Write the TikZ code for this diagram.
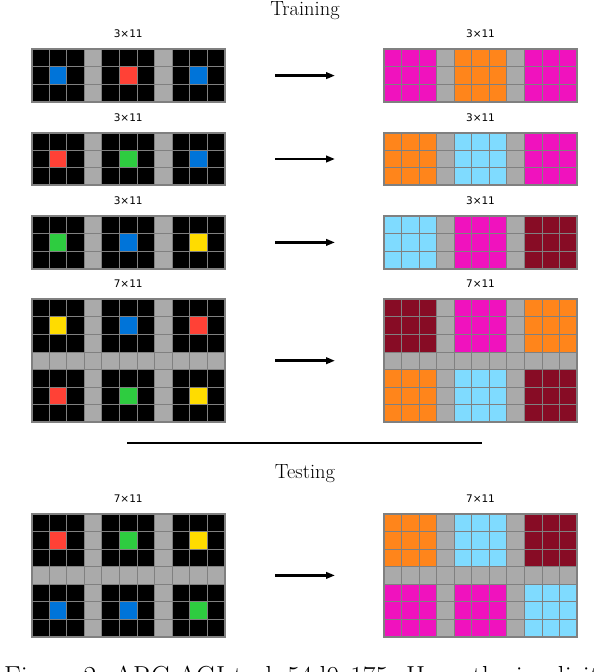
\documentclass[tikz,border=0pt]{standalone}
\usepackage{fontspec}
\newfontfamily\lblfont{DejaVu Sans}
\usetikzlibrary{arrows.meta}
\definecolor{arcblue}{HTML}{0074D9}
\definecolor{arcred}{HTML}{FF4136}
\definecolor{arcgreen}{HTML}{2ECC40}
\definecolor{arcyellow}{HTML}{FFDC00}
\definecolor{arcgray}{HTML}{AAAAAA}
\definecolor{arcmagenta}{HTML}{F012BE}
\definecolor{arcorange}{HTML}{FF851B}
\definecolor{arcazure}{HTML}{7FDBFF}
\definecolor{arcmaroon}{HTML}{870C25}
\definecolor{gridgray}{HTML}{808080}
\tikzset{
  gline/.style={draw=gridgray, line width=0.9pt},
  gborder/.style={draw=gridgray, line width=2pt},
  sizelbl/.style={font=\lblfont\fontsize{10.5}{12}\selectfont, inner sep=0pt},
  titletext/.style={font=\fontsize{20.5}{24}\selectfont, inner sep=0pt, anchor=base},
  maparrow/.style={line width=2.7pt, -{Triangle[length=9pt,width=6.5pt]}},
}
\def\arcs{17.55}
% #1 name, #2 x0, #3 y0, #4 rows, #5 0=input/1=output, #6 list row/col/colour of 3x3 blocks
\newcommand\arcgrid[6]{%
  \begin{scope}[shift={(#2,#3)}]
    \ifnum#5=0
      \fill[black] (0,0) rectangle ({11*\arcs},{#4*\arcs});
      \fill[arcgray] ({3*\arcs},0) rectangle ({4*\arcs},{#4*\arcs});
      \fill[arcgray] ({7*\arcs},0) rectangle ({8*\arcs},{#4*\arcs});
      \ifnum#4=7 \fill[arcgray] (0,{3*\arcs}) rectangle ({11*\arcs},{4*\arcs});\fi
      \foreach \br/\bc/\bcol in {#6}
        \fill[\bcol] ({(4*\bc+1)*\arcs},{(4*\br+1)*\arcs}) rectangle +(\arcs,\arcs);
    \else
      \fill[arcgray] (0,0) rectangle ({11*\arcs},{#4*\arcs});
      \foreach \br/\bc/\bcol in {#6}
        \fill[\bcol] ({4*\bc*\arcs},{4*\br*\arcs}) rectangle +({3*\arcs},{3*\arcs});
    \fi
    \foreach \i in {1,...,10} \draw[gline] ({\i*\arcs},0) -- ({\i*\arcs},{#4*\arcs});
    \pgfmathtruncatemacro\rr{#4-1}
    \foreach \j in {1,...,\rr} \draw[gline] (0,{\j*\arcs}) -- ({11*\arcs},{\j*\arcs});
    \draw[gborder] (0,0) rectangle ({11*\arcs},{#4*\arcs});
    \coordinate (#1) at ({5.5*\arcs},{#4*\arcs/2});
  \end{scope}}
\begin{document}
\begin{tikzpicture}[x=1pt,y=-1pt]
\useasboundingbox (0,0) rectangle (610,672);
\node[titletext] (train) at (305,15) {Training};
% row 1
\node[sizelbl] (l1a) at (128.2,33.9) {3×11};
\node[sizelbl] (l1b) at (480.5,33.9) {3×11};
\arcgrid{g1a}{31.7}{49.3}{3}{0}{0/0/arcblue,0/1/arcred,0/2/arcblue}
\arcgrid{g1b}{384}{49.3}{3}{1}{0/0/arcmagenta,0/1/arcorange,0/2/arcmagenta}
\coordinate (a1s) at (275,75.6); \coordinate (a1e) at (335,75.6);
\draw[maparrow] (a1s) -- (a1e);
% row 2
\node[sizelbl] (l2a) at (128.2,117.3) {3×11};
\node[sizelbl] (l2b) at (480.5,117.3) {3×11};
\arcgrid{g2a}{31.7}{132.7}{3}{0}{0/0/arcred,0/1/arcgreen,0/2/arcblue}
\arcgrid{g2b}{384}{132.7}{3}{1}{0/0/arcorange,0/1/arcazure,0/2/arcmagenta}
\coordinate (a2s) at (275,159); \coordinate (a2e) at (335,159);
\draw[maparrow] (a2s) -- (a2e);
% row 3
\node[sizelbl] (l3a) at (128.2,200.7) {3×11};
\node[sizelbl] (l3b) at (480.5,200.7) {3×11};
\arcgrid{g3a}{31.7}{216.1}{3}{0}{0/0/arcgreen,0/1/arcblue,0/2/arcyellow}
\arcgrid{g3b}{384}{216.1}{3}{1}{0/0/arcazure,0/1/arcmagenta,0/2/arcmaroon}
\coordinate (a3s) at (275,242.4); \coordinate (a3e) at (335,242.4);
\draw[maparrow] (a3s) -- (a3e);
% row 4
\node[sizelbl] (l4a) at (128.2,283.9) {7×11};
\node[sizelbl] (l4b) at (480.5,283.9) {7×11};
\arcgrid{g4a}{31.7}{299.3}{7}{0}{0/0/arcyellow,0/1/arcblue,0/2/arcred,1/0/arcred,1/1/arcgreen,1/2/arcyellow}
\arcgrid{g4b}{384}{299.3}{7}{1}{0/0/arcmaroon,0/1/arcmagenta,0/2/arcorange,1/0/arcorange,1/1/arcazure,1/2/arcmaroon}
\coordinate (a4s) at (275,360.7); \coordinate (a4e) at (335,360.7);
\draw[maparrow] (a4s) -- (a4e);
% separator
\coordinate (sepL) at (127,443); \coordinate (sepR) at (482,443);
\draw[line width=1.6pt] (sepL) -- (sepR);
% testing
\node[titletext] (test) at (305,478) {Testing};
\node[sizelbl] (l5a) at (128.2,498.6) {7×11};
\node[sizelbl] (l5b) at (480.5,498.6) {7×11};
\arcgrid{g5a}{31.7}{514}{7}{0}{0/0/arcred,0/1/arcgreen,0/2/arcyellow,1/0/arcblue,1/1/arcblue,1/2/arcgreen}
\arcgrid{g5b}{384}{514}{7}{1}{0/0/arcorange,0/1/arcazure,0/2/arcmaroon,1/0/arcmagenta,1/1/arcmagenta,1/2/arcazure}
\coordinate (a5s) at (275,575.4); \coordinate (a5e) at (335,575.4);
\draw[maparrow] (a5s) -- (a5e);
% caption (cut off by the page edge, as in the reference)
\node[font=\fontsize{27.5}{32}\selectfont, anchor=base west, inner sep=0pt] (cap) at (4,685) {Figure 2: ARC-AGI task 54d9e175. Here, the implicit};
\end{tikzpicture}
\end{document}
